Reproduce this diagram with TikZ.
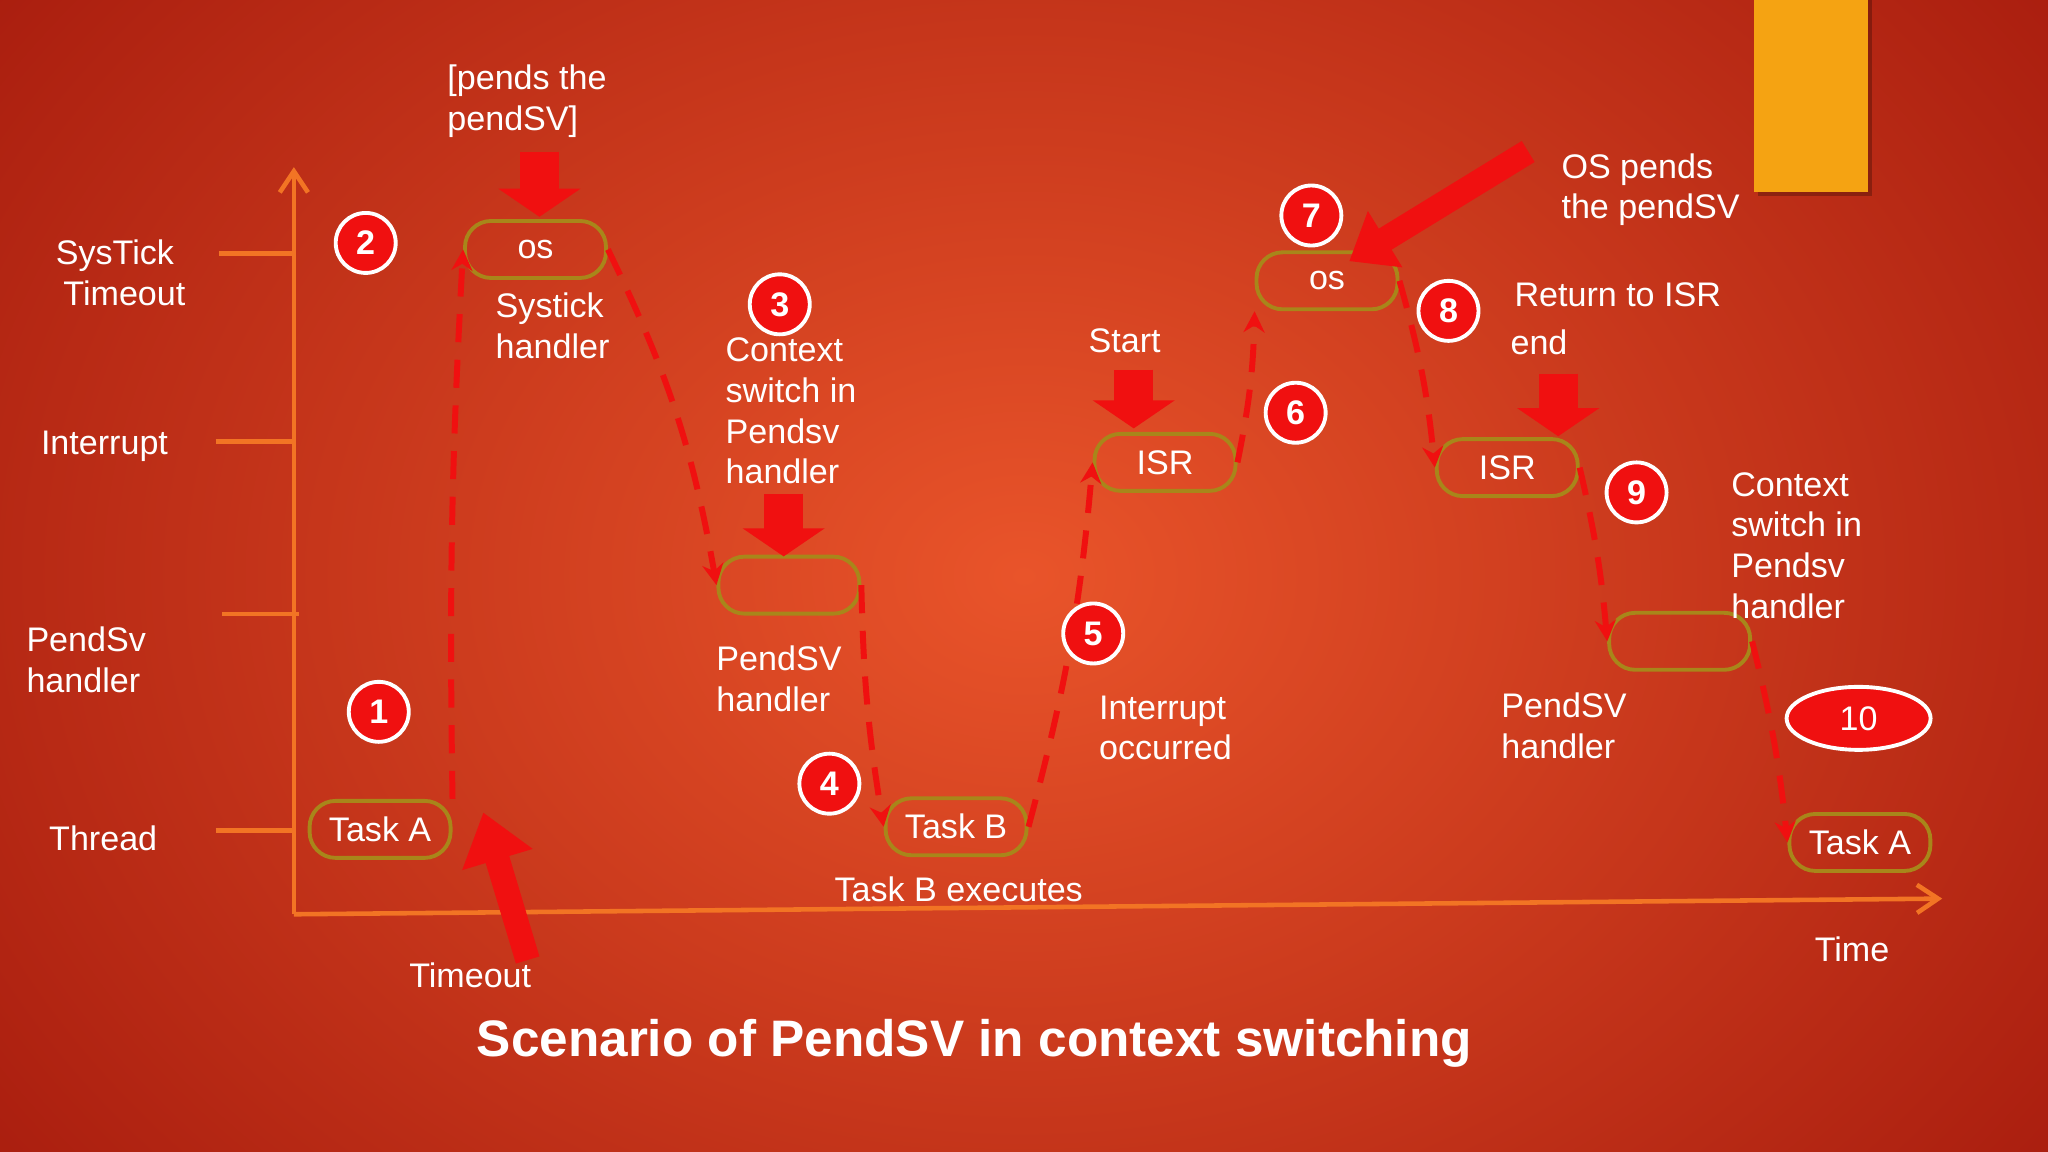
\documentclass[tikz,border=0pt]{standalone}
\usepackage{fontspec}
\setmainfont{Liberation Sans}
\usetikzlibrary{arrows.meta,shapes.geometric}
\definecolor{bgin}{HTML}{E9542A}
\definecolor{bgout}{HTML}{A3180C}
\definecolor{axis}{HTML}{F27424}
\definecolor{boxc}{HTML}{A8861A}
\definecolor{arr}{HTML}{F01010}
\definecolor{gold}{HTML}{F5A312}
\tikzset{
 txt/.style={text=white,font=\fontsize{9.7}{11.6}\selectfont,align=left,inner sep=0pt},
 lvl/.style={txt,align=center},
 st/.style={draw=boxc,line width=1.1pt,rounded corners=2.6mm,minimum width=14.1mm,minimum height=5.7mm,text=white,font=\fontsize{9.7}{11.6}\selectfont,inner sep=0pt},
 num/.style={circle,draw=white,line width=1.1pt,fill=arr,text=white,minimum size=6mm,inner sep=0pt,font=\fontsize{9.7}{11}\selectfont\bfseries},
 flow/.style={draw=arr,line width=1.7pt,dash pattern=on 8pt off 5pt,-{Stealth[length=6pt,width=6pt]}},
 big/.style={draw=arr,line width=11pt,-{Triangle[length=8pt,width=23pt]}},
 ax/.style={draw=axis,line width=1.3pt,-{Straight Barb[length=6pt,width=8pt]}},
 tick/.style={draw=axis,line width=1.3pt}
}
\begin{document}
\begin{tikzpicture}[x=0.013061cm,y=-0.013061cm]
\useasboundingbox (0,0) rectangle (1568,882);
\shade[inner color=bgin,outer color=bgout] (-300,-400) rectangle (1868,1282);
\clip (0,0) rectangle (1568,882);
\fill[black,opacity=0.25] (1346,0) rectangle (1433,150);
\fill[gold] (1343,0) rectangle (1430,147);
% axes
\coordinate (o) at (225,700);
\coordinate (ytop) at (225,128);
\coordinate (xend) at (1487,688);
\draw[ax] (o) -- (ytop);
\draw[ax] (o) -- (xend);
\coordinate (t1a) at (168,194); \coordinate (t1b) at (225,194);
\coordinate (t2a) at (165,338); \coordinate (t2b) at (225,338);
\coordinate (t3a) at (170,470); \coordinate (t3b) at (229,470);
\coordinate (t4a) at (165,636); \coordinate (t4b) at (225,636);
\draw[tick] (t1a)--(t1b); \draw[tick] (t2a)--(t2b); \draw[tick] (t3a)--(t3b); \draw[tick] (t4a)--(t4b);
\node[lvl] (l1) at (88,209) {SysTick\\\ \ Timeout};
\node[lvl] (l2) at (80,342) {Interrupt};
\node[txt] (l3) at (66,505) {PendSv\\handler};
\node[lvl] (l4) at (79,642) {Thread};
% states
\node[st] (ta) at (291,635) {Task A};
\node[st] (os1) at (410,191) {os};
\node[st] (pv1) at (604,448) {};
\node[st] (tb) at (732,633) {Task B};
\node[st] (isr1) at (892,354) {ISR};
\node[st] (os2) at (1016,215) {os};
\node[st] (isr2) at (1154,358) {ISR};
\node[st] (pv2) at (1286,491) {};
\node[st] (ta2) at (1424,645) {Task A};
% flow
\draw[flow] (ta.north east) to[bend left=2] (os1.west);
\draw[flow] (os1.east) to[bend left=8] (pv1.west);
\draw[flow] (pv1.east) to[bend right=4] (tb.west);
\draw[flow] (tb.east) to[bend right=5] (isr1.west);
\draw[flow] (isr1.east) to[bend right=5] (os2.south west);
\draw[flow] (os2.east) to[bend left=5] (isr2.west);
\draw[flow] (isr2.east) to[bend left=4] (pv2.west);
\draw[flow] (pv2.east) to[bend left=4] (ta2.west);
% numbers
\node[num] (n1) at (290,545) {1};
\node[num] (n2) at (280,186) {2};
\node[num] (n3) at (597,233) {3};
\node[num] (n4) at (635,600) {4};
\node[num] (n5) at (837,485) {5};
\node[num] (n6) at (992,316) {6};
\node[num] (n7) at (1004,165) {7};
\node[num] (n8) at (1109,238) {8};
\node[num] (n9) at (1253,377) {9};
\node[ellipse,draw=white,line width=1.1pt,fill=arr,text=white,minimum width=14.4mm,minimum height=6.3mm,inner sep=0pt,font=\fontsize{9.7}{11}\selectfont] (n10) at (1423,550) {10};
% big arrows
\coordinate (b1a) at (413,116); \coordinate (b1b) at (413,166);
\coordinate (b2a) at (600,378); \coordinate (b2b) at (600,426);
\coordinate (b3a) at (868,283); \coordinate (b3b) at (868,328);
\coordinate (b4a) at (1193,286); \coordinate (b4b) at (1193,334);
\coordinate (b5a) at (1170,116); \coordinate (b5b) at (1033,200);
\coordinate (b6a) at (404,735); \coordinate (b6b) at (370,622);
\draw[big] (b1a)--(b1b); \draw[big] (b2a)--(b2b); \draw[big] (b3a)--(b3b); \draw[big] (b4a)--(b4b);
\draw[big,line width=7pt,-{Triangle[length=12pt,width=18pt]}] (b5a)--(b5b);
\draw[big,line width=7pt,-{Triangle[length=14pt,width=20pt]}] (b6a)--(b6b);
% texts
\node[txt,anchor=north west] (x1) at (342,49) {[pends the\\pendSV]};
\node[txt,anchor=north west] (x2) at (379,224) {Systick\\handler};
\node[txt,anchor=north west] (x3) at (555,258) {Context\\switch in\\Pendsv\\handler};
\node[txt,anchor=north west] (x4) at (548,494) {PendSV\\handler};
\node[txt] (x5) at (734,681) {Task B executes};
\node[txt] (x6) at (360,747) {Timeout};
\node[txt] (x7) at (861,261) {Start};
\node[txt,anchor=north west] (x8) at (841,532) {Interrupt\\occurred};
\node[txt,anchor=north west] (x9) at (1195,117) {OS pends\\the pendSV};
\node[txt,anchor=north west] (x10) at (1159,216) {Return to ISR};
\node[txt,anchor=north west] (x11) at (1156,252) {end};
\node[txt,anchor=north west] (x12) at (1325,361) {Context\\switch in\\Pendsv\\handler};
\node[txt,anchor=north west] (x13) at (1149,530) {PendSV\\handler};
\node[txt] (x14) at (1418,727) {Time};
\node[txt,font=\fontsize{14.6}{17}\selectfont\bfseries] (title) at (746,799) {Scenario of PendSV in context switching};
\end{tikzpicture}
\end{document}
